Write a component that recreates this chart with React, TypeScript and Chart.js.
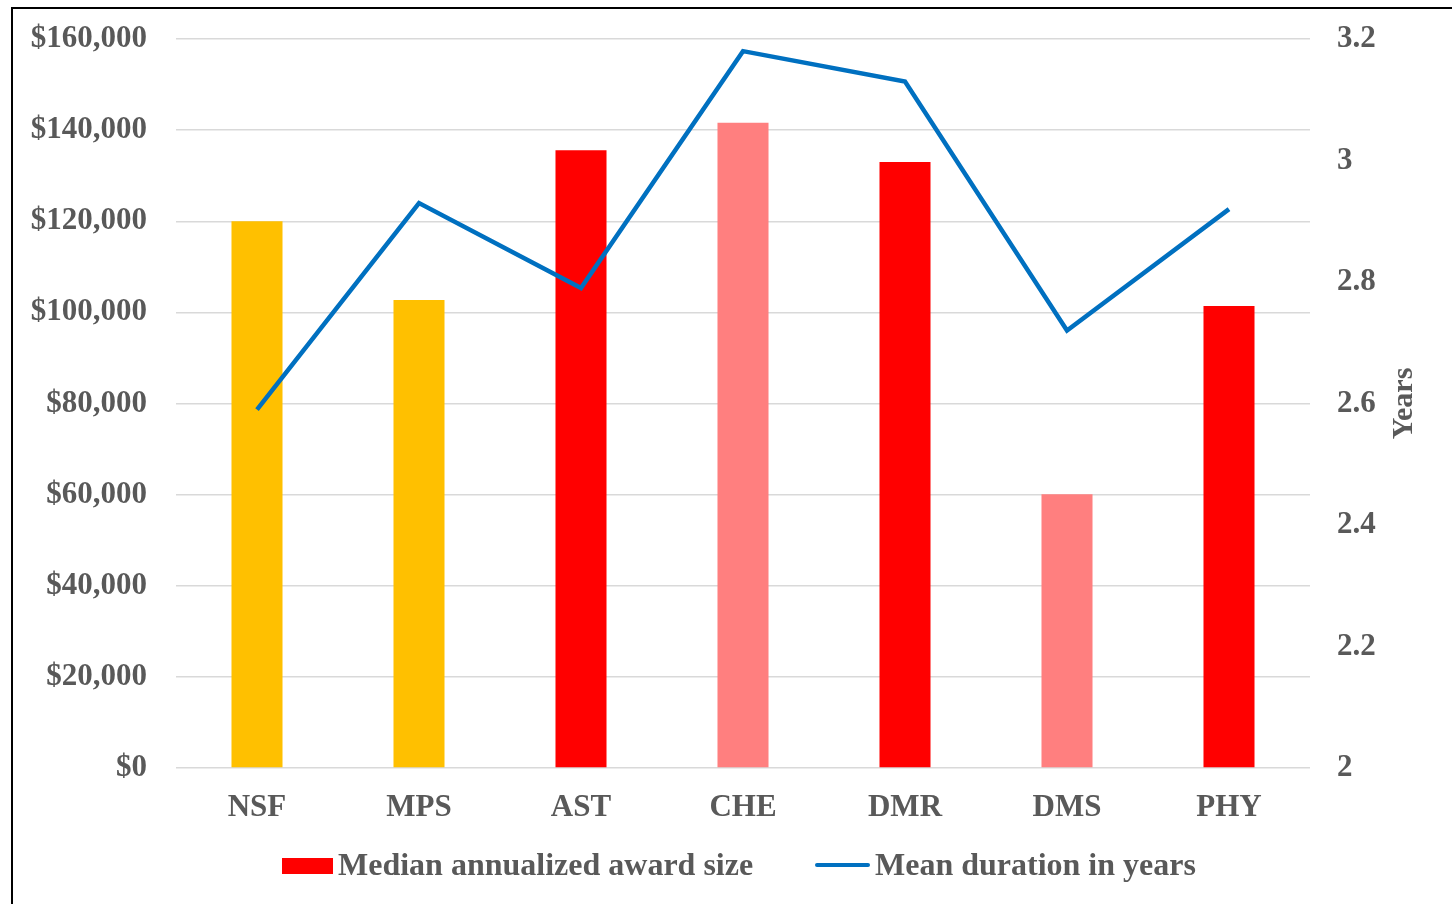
import React, { useEffect, useRef } from "react";
import { Chart, registerables } from "chart.js";

Chart.register(...registerables);

const categories = ["NSF", "MPS", "AST", "CHE", "DMR", "DMS", "PHY"];
const awardSize = [120000, 102700, 135600, 141600, 133000, 60100, 101400];
const durationYears = [2.59, 2.93, 2.79, 3.18, 3.13, 2.72, 2.92];
const barColors = ["#FFC000", "#FFC000", "#FF0000", "#FF7F7F", "#FF0000", "#FF7F7F", "#FF0000"];
const legendBarColor = "#FF0000";
const lineColor = "#0070C0";
const seriesLabels = ["Median annualized award size", "Mean duration in years"];
const leftAxisMin = 0;
const leftAxisMax = 160000;
const leftAxisStep = 20000;
const rightAxisMin = 2;
const rightAxisMax = 3.2;
const rightAxisStep = 0.2;
const rightAxisTitle = "Years";

const FONT = "'Liberation Serif', 'Times New Roman', serif";
const TEXT = "#595959";

const framePlugin = {
  id: "frame",
  beforeDraw(chart: any) {
    const ctx = chart.ctx;
    ctx.save();
    ctx.fillStyle = "#ffffff";
    ctx.fillRect(0, 0, chart.width, chart.height);
    ctx.fillStyle = "#000000";
    ctx.fillRect(11, 7, 2, chart.height);
    ctx.fillRect(11, 7, chart.width, 2);
    ctx.restore();
  },
};

const extrasPlugin = {
  id: "extras",
  afterDraw(chart: any) {
    const ctx = chart.ctx;
    const area = chart.chartArea;
    ctx.save();
    // right axis title, rotated to read bottom-to-top
    ctx.font = `bold 30px ${FONT}`;
    ctx.fillStyle = TEXT;
    ctx.textAlign = "center";
    ctx.textBaseline = "middle";
    ctx.translate(1404, (area.top + area.bottom) / 2);
    ctx.rotate(-Math.PI / 2);
    ctx.fillText(rightAxisTitle, 0, 0);
    ctx.restore();

    // legend
    ctx.save();
    ctx.font = `bold 32px ${FONT}`;
    ctx.textAlign = "left";
    ctx.textBaseline = "alphabetic";
    const baseY = 875;
    ctx.fillStyle = legendBarColor;
    ctx.fillRect(282, 858, 51, 16);
    ctx.fillStyle = TEXT;
    ctx.fillText(seriesLabels[0], 338, baseY);
    ctx.strokeStyle = lineColor;
    ctx.lineWidth = 4;
    ctx.lineCap = "round";
    ctx.beginPath();
    ctx.moveTo(817, 865);
    ctx.lineTo(868, 865);
    ctx.stroke();
    ctx.fillText(seriesLabels[1], 875, baseY);
    ctx.restore();
  },
};

export default function App() {
  const ref = useRef<HTMLCanvasElement | null>(null);

  useEffect(() => {
    if (!ref.current) return;
    const chart = new Chart(ref.current, {
      type: "bar",
      data: {
        labels: categories,
        datasets: [
          {
            type: "line",
            label: seriesLabels[1],
            data: durationYears,
            yAxisID: "y1",
            borderColor: lineColor,
            backgroundColor: lineColor,
            borderWidth: 4.5,
            pointRadius: 0,
            pointHoverRadius: 0,
            tension: 0,
            order: 0,
          } as any,
          {
            type: "bar",
            label: seriesLabels[0],
            data: awardSize,
            yAxisID: "y",
            backgroundColor: barColors,
            borderWidth: 0,
            barPercentage: 0.315,
            categoryPercentage: 1,
            order: 1,
          },
        ],
      },
      options: {
        animation: false,
        responsive: false,
        maintainAspectRatio: false,
        layout: { padding: { left: 0, right: 0, top: 39, bottom: 66 } },
        plugins: {
          legend: { display: false },
          tooltip: { enabled: false },
        },
        scales: {
          x: {
            grid: { display: false, drawTicks: false },
            border: { display: false },
            ticks: {
              color: TEXT,
              font: { family: FONT, size: 31, weight: "bold" },
              padding: 21,
              maxRotation: 0,
            },
            afterFit(scale: any) {
              scale.height = 70;
              scale.paddingLeft = 0;
              scale.paddingRight = 0;
            },
          },
          y: {
            position: "left",
            min: leftAxisMin,
            max: leftAxisMax,
            grid: { color: "#D9D9D9", lineWidth: 1.5, drawTicks: false },
            border: { display: false },
            ticks: {
              stepSize: leftAxisStep,
              color: TEXT,
              font: { family: FONT, size: 31, weight: "bold" },
              padding: 29,
              callback: (v: any) => "$" + Number(v).toLocaleString("en-US"),
            },
            afterFit(scale: any) {
              scale.width = 176;
              scale.paddingTop = 0;
              scale.paddingBottom = 0;
            },
          },
          y1: {
            position: "right",
            min: rightAxisMin,
            max: rightAxisMax,
            grid: { display: false, drawTicks: false },
            border: { display: false },
            ticks: {
              stepSize: rightAxisStep,
              color: TEXT,
              font: { family: FONT, size: 31, weight: "bold" },
              padding: 27,
              callback: (v: any) => String(Math.round(Number(v) * 10) / 10),
            },
            afterFit(scale: any) {
              scale.width = 142;
              scale.paddingTop = 0;
              scale.paddingBottom = 0;
            },
          },
        },
      },
      plugins: [framePlugin, extrasPlugin],
    });
    return () => chart.destroy();
  }, []);

  return (
    <div style={{ position: "fixed", left: 0, top: 0, width: 1452, height: 904, overflow: "hidden", background: "#fff" }}>
      <canvas ref={ref} width={1452} height={904} style={{ display: "block", width: 1452, height: 904 }} />
    </div>
  );
}
